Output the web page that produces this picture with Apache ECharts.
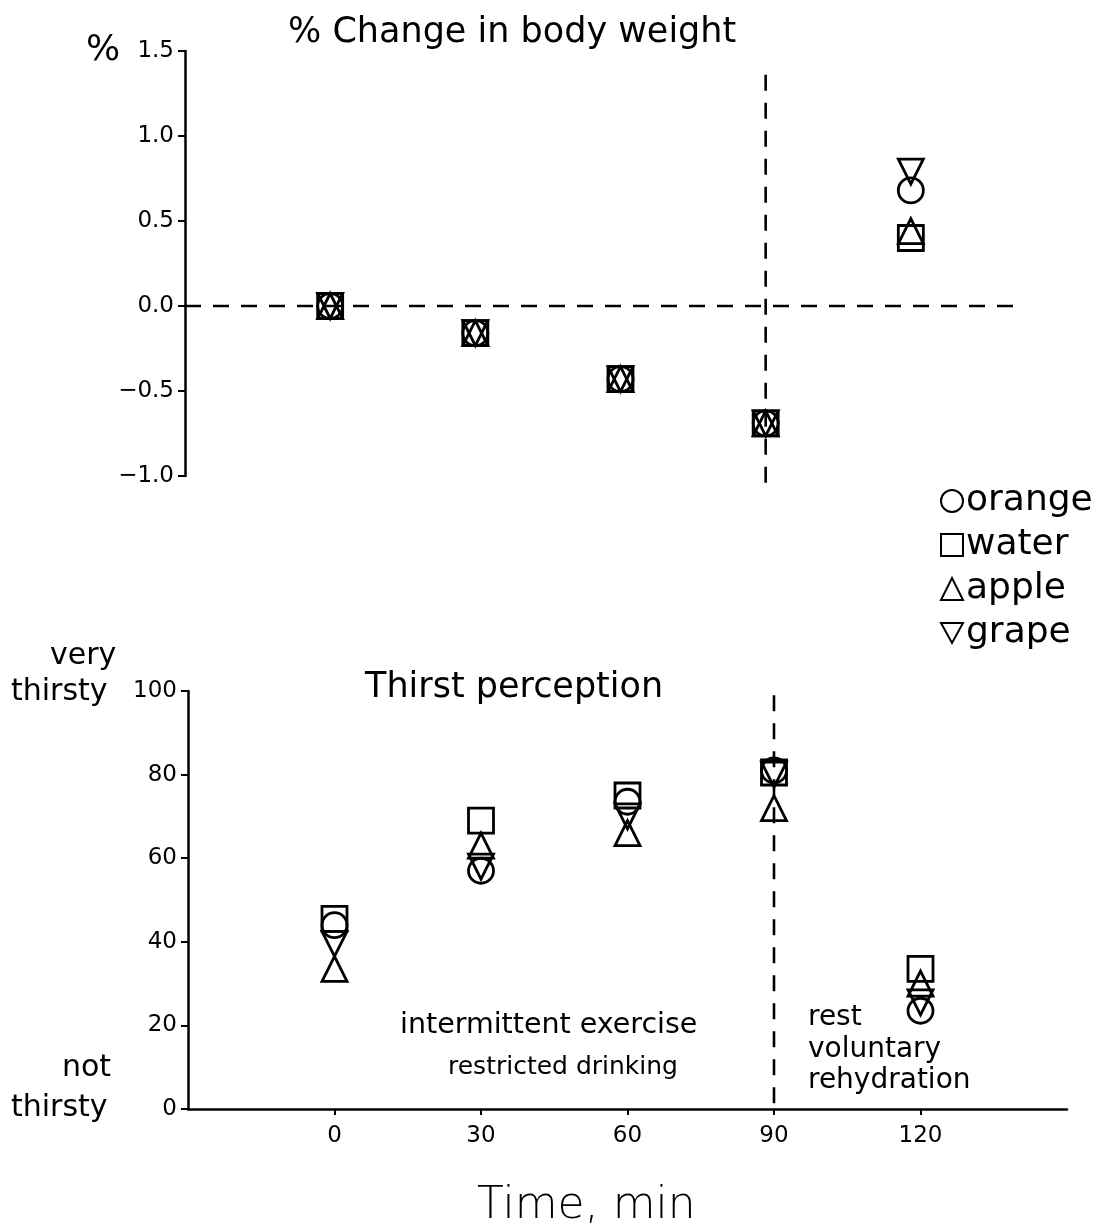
<!DOCTYPE html>
<html>
<head>
<meta charset="utf-8">
<script src="https://cdn.jsdelivr.net/npm/echarts@6/dist/echarts.min.js"></script>
<style>
html,body{margin:0;padding:0;background:#fff;}
#chart{width:1108px;height:1231px;}
</style>
</head>
<body>
<div id="chart"></div>
<script>
// ---- data ----
const times = [0, 30, 60, 90, 120];
const weightOrange = [0, -0.16, -0.43, -0.69, 0.68];
const weightWater  = [0, -0.16, -0.43, -0.69, 0.40];
const weightApple  = [0, -0.16, -0.43, -0.69, 0.44];
const weightGrape  = [0, -0.16, -0.43, -0.69, 0.79];
const thirstOrange = [44, 57, 73.5, 81, 23.5];
const thirstWater  = [45.5, 69, 75, 80.5, 33.5];
const thirstApple  = [33.5, 63, 66, 72, 30];
const thirstGrape  = [39.5, 58, 70, 80, 25.5];
const weightTicks = [-1.0, -0.5, 0.0, 0.5, 1.0, 1.5];
const thirstTicks = [0, 20, 40, 60, 80, 100];
const timeTicks = [0, 30, 60, 90, 120];
// reference lines (data coordinates)
const zeroLine = [[-30, 0], [142, 0]];
const phaseLineTop = [[90, 1.36], [90, -1.08]];
const phaseLineBottom = [[90, 99], [90, 0]];

const FONT = '"DejaVu Sans", sans-serif';
const pair = (xs, ys) => xs.map((x, i) => [x, ys[i]]);
const hollow = {color: 'rgba(0,0,0,0)', borderColor: '#000', borderWidth: 2.8, opacity: 1};
const downTri = 'path://M0,0 L20,0 L10,18 Z';
const symbols = {orange: 'circle', water: 'rect', apple: 'triangle', grape: downTri};

function scatter(name, data, idx) {
  return {
    name: name, type: 'scatter', xAxisIndex: idx, yAxisIndex: idx,
    data: data, symbol: symbols[name], symbolSize: 25,
    itemStyle: hollow, emphasis: {disabled: true}, z: 3
  };
}
function refLine(data, idx) {
  return {
    type: 'line', xAxisIndex: idx, yAxisIndex: idx, data: data,
    symbol: 'none', clip: false, silent: true,
    lineStyle: {color: '#000', width: 2.6, type: [16, 12]}, z: 2
  };
}

const chart = echarts.init(document.getElementById('chart'), null, {renderer: 'canvas'});
const fmtW = v => (v < 0 ? '\u2212' : '') + Math.abs(v).toFixed(1);
const axisLab = {fontSize: 23, color: '#000', margin: 11, fontFamily: FONT};

chart.setOption({
  backgroundColor: '#fff',
  animation: false,
  textStyle: {fontFamily: FONT, color: '#000'},
  title: [
    {text: '% Change in body weight', left: 283, top: 10, textStyle: {fontSize: 35, fontWeight: 'normal', fontFamily: FONT, color: '#000'}},
    {text: 'Thirst perception', left: 360, top: 665, textStyle: {fontSize: 35, fontWeight: 'normal', fontFamily: FONT, color: '#000'}},
    {text: 'Time, min', left: 472, top: 1180, textStyle: {fontSize: 44, fontWeight: 300, fontFamily: FONT, color: '#000'}}
  ],
  legend: {
    orient: 'vertical', left: 935, top: 478, itemGap: 8,
    itemWidth: 22, itemHeight: 22, selectedMode: false,
    data: ['orange', 'water', 'apple', 'grape'],
    itemStyle: {opacity: 1},
    textStyle: {fontSize: 36, lineHeight: 35, fontFamily: FONT, color: '#000', padding: [0, 0, 0, -2]}
  },
  grid: [
    {left: 185, top: 51, width: 871, height: 425},
    {left: 188, top: 691, width: 879, height: 418}
  ],
  xAxis: [
    {type: 'value', gridIndex: 0, min: -30, max: 150, interval: 30,
     axisLine: {show: false}, axisTick: {show: false}, axisLabel: {show: false}, splitLine: {show: false}},
    {type: 'value', gridIndex: 1, min: -30, max: 150, interval: 30,
     axisLine: {show: true, onZero: false, lineStyle: {color: '#000', width: 2.5}},
     axisTick: {show: true, length: 6, lineStyle: {color: '#000', width: 2}, customValues: timeTicks},
     axisLabel: Object.assign({}, axisLab, {margin: 16, customValues: timeTicks,
       formatter: v => timeTicks.includes(v) ? String(v) : ''}),
     splitLine: {show: false}}
  ],
  yAxis: [
    {type: 'value', gridIndex: 0, min: -1.0, max: 1.5, interval: 0.5,
     axisLine: {show: true, onZero: false, lineStyle: {color: '#000', width: 2.5}},
     axisTick: {show: true, length: 7, lineStyle: {color: '#000', width: 2}},
     axisLabel: Object.assign({}, axisLab, {
       formatter: v => weightTicks.some(t => Math.abs(t - v) < 1e-9) ? fmtW(v) : ''}),
     splitLine: {show: false}},
    {type: 'value', gridIndex: 1, min: 0, max: 100, interval: 20,
     axisLine: {show: true, onZero: false, lineStyle: {color: '#000', width: 2.5}},
     axisTick: {show: true, length: 7, lineStyle: {color: '#000', width: 2}},
     axisLabel: Object.assign({}, axisLab, {
       formatter: v => thirstTicks.includes(v) ? String(v) : ''}),
     splitLine: {show: false}}
  ],
  graphic: [
    {type: 'text', left: 86, top: 33, style: {text: '%', fontSize: 36, fontFamily: FONT, fill: '#000'}},
    {type: 'text', left: 50, top: 641, style: {text: 'very', fontSize: 30, fontFamily: FONT, fill: '#000'}},
    {type: 'text', left: 11, top: 677, style: {text: 'thirsty', fontSize: 30, fontFamily: FONT, fill: '#000'}},
    {type: 'text', left: 62, top: 1053, style: {text: 'not', fontSize: 30, fontFamily: FONT, fill: '#000'}},
    {type: 'text', left: 11, top: 1093, style: {text: 'thirsty', fontSize: 30, fontFamily: FONT, fill: '#000'}},
    {type: 'text', left: 400, top: 1011, style: {text: 'intermittent exercise', fontSize: 28.5, fontFamily: FONT, fill: '#000'}},
    {type: 'text', left: 448, top: 1055, style: {text: 'restricted drinking', fontSize: 25, fontFamily: FONT, fill: '#000'}},
    {type: 'text', left: 808, top: 1002, style: {text: 'rest\nvoluntary\nrehydration', fontSize: 28, lineHeight: 31.5, fontFamily: FONT, fill: '#000'}}
  ],
  series: [
    refLine(zeroLine, 0),
    refLine(phaseLineTop, 0),
    refLine(phaseLineBottom, 1),
    scatter('orange', pair(times, weightOrange), 0),
    scatter('water', pair(times, weightWater), 0),
    scatter('apple', pair(times, weightApple), 0),
    scatter('grape', pair(times, weightGrape), 0),
    scatter('orange', pair(times, thirstOrange), 1),
    scatter('water', pair(times, thirstWater), 1),
    scatter('apple', pair(times, thirstApple), 1),
    scatter('grape', pair(times, thirstGrape), 1)
  ]
});
</script>
</body>
</html>
